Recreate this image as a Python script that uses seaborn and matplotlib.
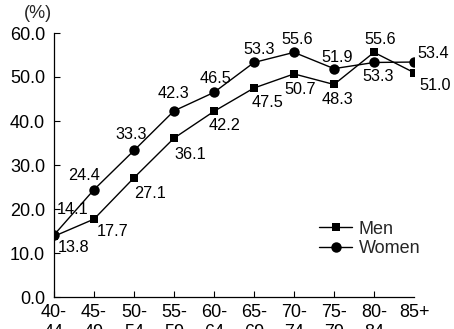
import matplotlib
matplotlib.use("Agg")
import matplotlib.pyplot as plt
import seaborn as sns
import pandas as pd

# Age groups and employment rates (%)
age_groups = ["40-\n44", "45-\n49", "50-\n54", "55-\n59", "60-\n64",
              "65-\n69", "70-\n74", "75-\n79", "80-\n84", "85+"]
men = [13.8, 17.7, 27.1, 36.1, 42.2, 47.5, 50.7, 48.3, 55.6, 51.0]
women = [14.1, 24.4, 33.3, 42.3, 46.5, 53.3, 55.6, 51.9, 53.3, 53.4]

# Label offsets in pixels (dx, dy) relative to each marker
men_offsets = [(20, -11), (19, -12), (16, -16), (16, -16), (11, -14),
               (14, -15), (6, -16), (4, -15), (6, 13), (21, -13)]
women_offsets = [(19, 25), (-10, 14), (-3, 16), (-1, 17), (1, 14),
                 (5, 13), (3, 13), (3, 11), (4, -14), (19, 9)]

sns.set_theme(style="ticks")
plt.rcParams["font.family"] = ["Liberation Sans", "DejaVu Sans"]

df = pd.DataFrame({"age": range(len(age_groups)), "Men": men, "Women": women})

fig = plt.figure(figsize=(4.54, 3.29), dpi=100)
ax = fig.add_axes([54 / 454, 32 / 329, 360 / 454, 264 / 329])

sns.lineplot(data=df, x="age", y="Men", ax=ax, color="black", lw=1.0,
             marker="s", markersize=6, markeredgewidth=0, label="Men")
sns.lineplot(data=df, x="age", y="Women", ax=ax, color="black", lw=1.0,
             marker="o", markersize=7.5, markeredgewidth=0, label="Women")

for xi, (v, (dx, dy)) in enumerate(zip(men, men_offsets)):
    ax.annotate(f"{v:.1f}", (xi, v), xytext=(dx, dy), textcoords="offset pixels",
                ha="center", va="center", fontsize=11.7, color="black")
for xi, (v, (dx, dy)) in enumerate(zip(women, women_offsets)):
    ax.annotate(f"{v:.1f}", (xi, v), xytext=(dx, dy), textcoords="offset pixels",
                ha="center", va="center", fontsize=11.7, color="black")

ax.set_xlim(0, len(age_groups) - 1)
ax.set_ylim(0, 60)
ax.set_xticks(range(len(age_groups)))
ax.set_xticklabels(age_groups, va="top", linespacing=1.2)
ax.set_yticks(range(0, 61, 10))
ax.set_yticklabels([f"{t:.1f}" for t in range(0, 61, 10)])
ax.tick_params(axis="both", direction="in", length=4, width=0.8,
               labelsize=13, colors="black")
ax.tick_params(axis="x", pad=5)
ax.tick_params(axis="y", pad=6.5)
ax.xaxis.get_major_ticks()[-1].tick1line.set_visible(False)
ax.set_xlabel("")
ax.set_ylabel("")
for side in ("top", "right"):
    ax.spines[side].set_visible(False)
for side in ("left", "bottom"):
    ax.spines[side].set_linewidth(0.9)
    ax.spines[side].set_color("black")

leg = ax.legend(loc="center left", bbox_to_anchor=(319 / 454, 90 / 329),
                bbox_transform=fig.transFigure, frameon=False, fontsize=13,
                handlelength=1.85, handletextpad=0.35, borderpad=0,
                borderaxespad=0, labelspacing=0.15)

fig.text(38 / 454, 1 - 13 / 329, "(%)", ha="center", va="center", fontsize=13)

fig.savefig("out.png", dpi=100)
